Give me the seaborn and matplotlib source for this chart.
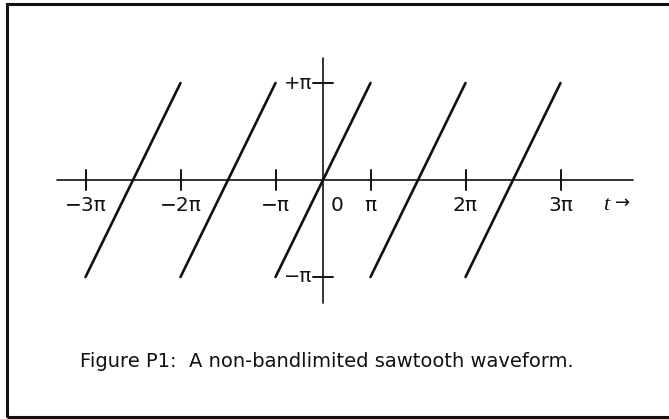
import numpy as np
import pandas as pd
import matplotlib
matplotlib.use("Agg")
import matplotlib.pyplot as plt
import seaborn as sns
from matplotlib.patches import Rectangle

# sawtooth ramps: horizontal unit = one period, vertical unit = pi
ramp_center = [-2, -1, 0, 1, 2]
ramp_half_width = 0.5
ramp_low = -1.0
ramp_high = 1.0

# horizontal tick marks and their labels
tick_pos = [-2.5, -1.5, -0.5, 0.5, 1.5, 2.5]
tick_labels = ["\u22123\u03c0", "\u22122\u03c0", "\u2212\u03c0", "\u03c0", "2\u03c0", "3\u03c0"]
ytick_pos = [1.0, -1.0]
ytick_labels = ["+\u03c0", "\u2212\u03c0"]
caption = "Figure P1:  A non-bandlimited sawtooth waveform."

rows = []
for i, c in enumerate(ramp_center):
    rows.append({"t": c - ramp_half_width, "x": ramp_low, "seg": i})
    rows.append({"t": c + ramp_half_width, "x": ramp_high, "seg": i})
df = pd.DataFrame(rows)

sns.set_style("white")
plt.rcParams["font.family"] = ["DejaVu Sans"]

fig = plt.figure(figsize=(6.69, 4.19), dpi=100)
ax = fig.add_axes([0, 0, 1, 1])

ink = "#111111"
sns.lineplot(data=df, x="t", y="x", units="seg", estimator=None, sort=False,
             color=ink, linewidth=1.9, ax=ax, legend=False)

# axes through the origin
ax.plot([-2.80, 3.263], [0, 0], color=ink, lw=1.2)
ax.plot([0, 0], [-1.268, 1.258], color=ink, lw=1.2)
for p in tick_pos:
    ax.plot([p, p], [-0.103, 0.103], color=ink, lw=1.4)
for p in ytick_pos:
    ax.plot([-0.105, 0.105], [p, p], color=ink, lw=1.4)

for p, lab in zip(tick_pos, tick_labels):
    ax.text(p, -0.26, lab, ha="center", va="center", fontsize=14.5, color=ink)
ax.text(0.147, -0.26, "0", ha="center", va="center", fontsize=14.5, color=ink)
for p, lab in zip(ytick_pos, ytick_labels):
    ax.text(-0.11, p, lab, ha="right", va="center", fontsize=14, color=ink)

ax.text(2.947, -0.26, "t", ha="left", va="center", fontsize=16, color=ink,
        family="Liberation Serif", fontstyle="italic")
ax.text(3.07, -0.24, "\u2192", ha="left", va="center", fontsize=13, color=ink)

ax.text(0.042, -1.876, caption, ha="center", va="center", fontsize=14, color=ink)

# scan-style frame, right side runs off the page
ax.add_patch(Rectangle((7 / 669, 2 / 419), 1.05, 413 / 419, transform=ax.transAxes,
                       fill=False, edgecolor=ink, lw=2.2, clip_on=True))

ax.set_xlim(-323 / 95, 346 / 95)
ax.set_ylim(-239 / 97, 180 / 97)
ax.set_axis_off()

fig.savefig("out.png", dpi=100)
